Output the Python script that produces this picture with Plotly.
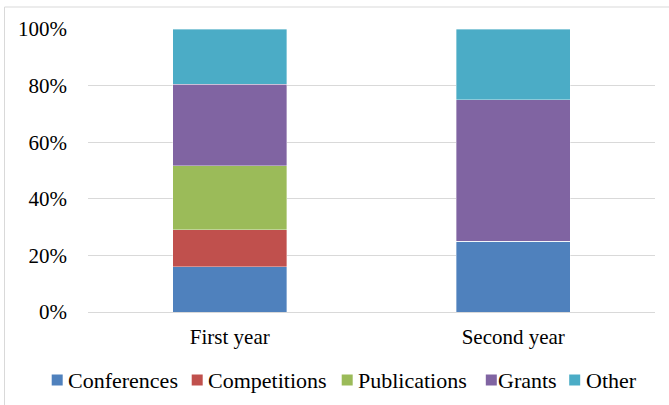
import plotly.graph_objects as go

categories = ["First year", "Second year"]
series_names = ["Conferences", "Competitions", "Publications", "Grants", "Other"]
conferences = [16.0, 25.0]
competitions = [13.0, 0.0]
publications = [22.7, 0.0]
grants = [28.8, 50.0]
other = [19.5, 25.0]
colors = ["#4F81BD", "#C0504D", "#9BBB59", "#8064A2", "#4BACC6"]
tick_vals = [0, 20, 40, 60, 80, 100]
tick_text = ["0%", "20%", "40%", "60%", "80%", "100%"]

values = [conferences, competitions, publications, grants, other]

W, H = 669, 405
ML, MR, MT, MB = 88, 14, 29, 93
PW, PH = W - ML - MR, H - MT - MB


def px_x(px):
    return (px - ML) / PW


def px_y(py):
    return (H - MB - py) / PH


fig = go.Figure()
for name, vals, col in zip(series_names, values, colors):
    fig.add_trace(go.Bar(
        x=categories, y=vals, name=name, showlegend=False,
        marker=dict(color=col, line=dict(color="rgba(255,255,255,0.6)", width=0.6)),
    ))

font = "Liberation Serif, Times New Roman, serif"

# legend layout (pixel positions of each entry)
legend_marker_cx = [57.2, 197.2, 347.2, 491.3, 574.7]
legend_text_x = [67.0, 207.0, 357.0, 496.5, 584.5]
legend_cy = 380.0
marker_half = 5.5

shapes = [dict(type="rect", xref="paper", yref="paper",
               x0=px_x(4.5), x1=1.2, y0=-0.5, y1=px_y(7),
               line=dict(color="#D9D9D9", width=1), fillcolor="rgba(0,0,0,0)", layer="below")]
annotations = []
for name, col, cx, tx in zip(series_names, colors, legend_marker_cx, legend_text_x):
    shapes.append(dict(type="rect", xref="paper", yref="paper",
                       x0=px_x(cx - marker_half), x1=px_x(cx + marker_half),
                       y0=px_y(legend_cy + marker_half), y1=px_y(legend_cy - marker_half),
                       line=dict(width=0), fillcolor=col))
    annotations.append(dict(text=name, xref="paper", yref="paper",
                            x=px_x(tx), y=px_y(legend_cy), xanchor="left", yanchor="middle",
                            showarrow=False, borderpad=0,
                            font=dict(family=font, size=22, color="#000000")))

fig.update_layout(
    barmode="stack",
    bargap=0.598,
    width=W, height=H,
    margin=dict(l=ML, r=MR, t=MT, b=MB, autoexpand=False),
    paper_bgcolor="white",
    plot_bgcolor="white",
    font=dict(family=font, size=21, color="#000000"),
    showlegend=False,
    annotations=annotations,
    shapes=shapes,
    xaxis=dict(showgrid=False, showline=False, ticks="", ticklabelstandoff=10,
               tickfont=dict(family=font, size=21, color="#000000")),
    yaxis=dict(range=[0, 100], tickvals=tick_vals, ticktext=tick_text,
               showgrid=True, gridcolor="#D9D9D9", gridwidth=1,
               zeroline=True, zerolinecolor="#D9D9D9", zerolinewidth=1,
               showline=False, ticks="", ticklabelstandoff=20,
               tickfont=dict(family=font, size=21, color="#000000")),
)

post = "document.body.style.margin='0';"
fig.write_html("out.html", config={"displayModeBar": False}, post_script=post)
